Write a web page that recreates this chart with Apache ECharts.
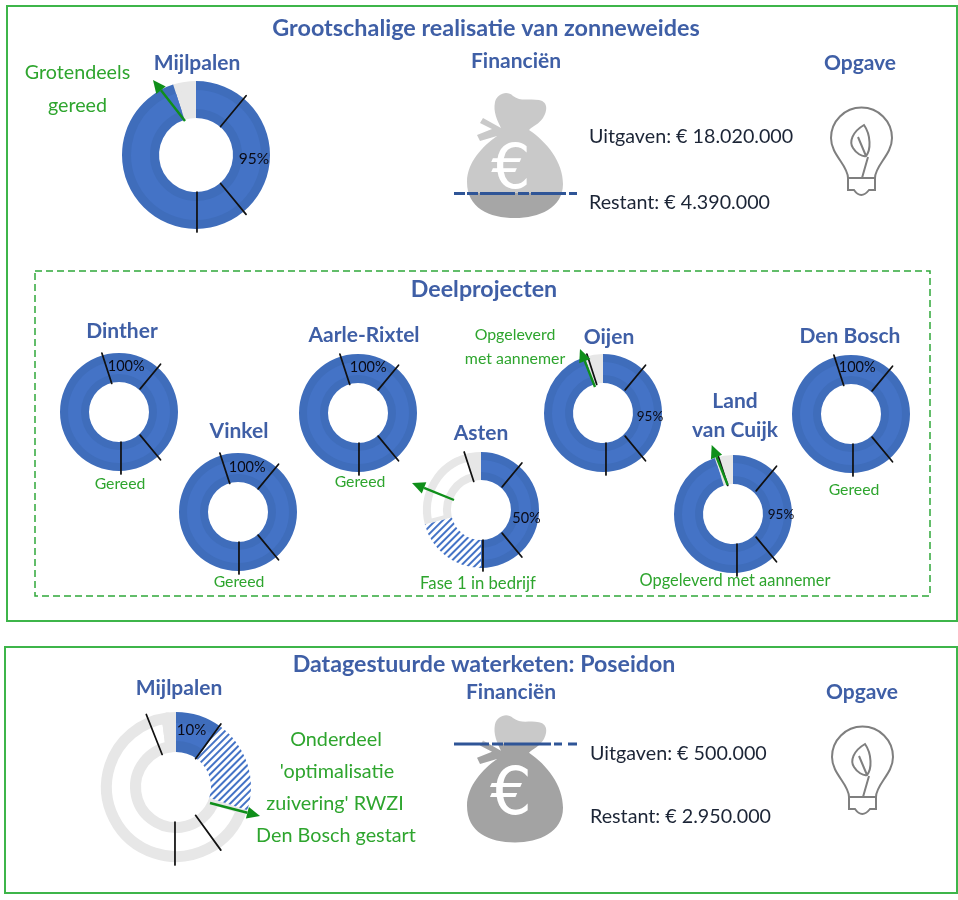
<!DOCTYPE html>
<html><head><meta charset="utf-8">
<style>html,body{margin:0;padding:0;background:#fff}#c{width:958px;height:900px}</style>
<script src="https://cdn.jsdelivr.net/npm/echarts@6/dist/echarts.min.js"></script>
</head><body><div id="c"></div>
<script>
// ---- data ----
const donutNames   = ['Grootschalig','Dinther','Vinkel','Aarle-Rixtel','Asten','Oijen','Land van Cuijk','Den Bosch','Poseidon'];
const doneValues   = [95,100,100,100,50,95,95,100,10];
const hatchValues  = [0,0,0,0,21,0,0,0,20];
const wedgeValues  = [5,0,0,0,3,5,5,0,2];
const milestones   = [[111,139,150],[95,111,139,150],[95,111,139,150],[95,111,139,150],[95,111,139,150],[95,111,139,150],[95,111,139,150],[95,111,139,150],[94,110,140,150]];

// ---- layout of the donuts ----
const labelSector  = [0,0,0,0,1,1,1,0,0];
const labelSizes   = [15.5,14.5,14.5,14.5,14.5,13.5,13.5,14.5,15];
const labelDx      = [-3,-4,-1,0,-5,-5,-5,-5,9];
const labelDy      = [4,2,3,2,8,4,1,1,2];
const centerX      = [196,119,238,358,481,603,733,851,176];
const centerY      = [155,412,512,413,510,413,514,414,787];
const tickDx       = [1,2,1,1,2,3,4,2,-1];
const outerR       = [74,59,59,59,58,59,59,59,75];
const holeR        = [37,30,30,30,30,30,30,30,35];
const bandW        = [9,8,8,8,8,8,8,8,11];

const headTexts = [['Grootschalige realisatie van zonneweides',486,28,23.4],['Deelprojecten',484,290,23.2],['Datagestuurde waterketen: Poseidon',484,665,23.2],
  ['Mijlpalen',197,63,21],['Financiën',516,61,21],['Opgave',860,63,21],['Mijlpalen',179,688,21],['Financiën',511,692,21],['Opgave',862,692,21],
  ['Dinther',122,331,21],['Vinkel',239,431,21],['Aarle-Rixtel',364,335,21],['Asten',481,433,21],['Oijen',609,337,21],['Land',735,401,21],['van Cuijk',735,430,21],['Den Bosch',850,336,21]];
const noteTexts = [['Grotendeels',77.5,73,19.7],['gereed',77.5,106,19.7],['Gereed',120,484,15.8],['Gereed',239,582,15.8],['Gereed',360,482,15.8],['Gereed',854,490,15.8],
  ['Fase 1 in bedrijf',478,584,16.7],['Opgeleverd',515,335,15.9],['met aannemer',515,359,15.9],['Opgeleverd met aannemer',735,581,16.4],
  ['Onderdeel',336,740,19.8],["'optimalisatie",337,772,19.8],["zuivering' RWZI",335,804,19.8],['Den Bosch gestart',336,836,19.8]];
const moneyTexts = [['Uitgaven: € 18.020.000',589,137],['Restant: € 4.390.000',589,203],['Uitgaven: € 500.000',590,754],['Restant: € 2.950.000',590,817]];
const arrows = [[185,121,153,80],[595,387,580,349],[454,500,412,483],[727.7,485,711.7,445],[210,803,260,816]];

// ---- style ----
const FONT='Lato';
const BLUE_EDGE='#3F6DBB', BLUE_MID='#4473C6', GREY='#E7E7E7', TITLE='#3F5FA6', GREEN='#2EA52E', ARROW='#0F8F1A';
const NONE={color:'transparent',borderWidth:0};

const series=[];
const pie=(name,c,radius,startAngle,data,extra)=>series.push(Object.assign({type:'pie',name,center:c,radius,startAngle,silent:true,animation:false,
  label:{show:false},labelLine:{show:false},data},extra||{}));

donutNames.forEach((name,i)=>{
  const c=[centerX[i],centerY[i]], b=bandW[i], R=outerR[i], h=holeR[i];
  const done=doneValues[i], hatch=hatchValues[i], wedge=wedgeValues[i], rest=100-done-hatch-wedge;
  // grey remainder: a white slice with a thick grey outline, plus a solid wedge at the top
  if(done<100){
    const grey=[{value:done+hatch,itemStyle:NONE}];
    if(rest>0) grey.push({value:rest,itemStyle:{color:'#fff',borderColor:GREY,borderWidth:b}});
    if(wedge>0) grey.push({value:wedge,itemStyle:{color:GREY,borderColor:GREY,borderWidth:b}});
    pie(name+' rest',c,[h+b/2,R-b/2],90,grey);
  }
  if(hatch>0){
    pie(name+' hatch',c,[h,R],90,[{value:done,itemStyle:NONE},
      {value:hatch,itemStyle:{color:'#fff',decal:{symbol:'rect',symbolSize:1,dashArrayX:[1,0],dashArrayY:[2,3],rotation:-Math.PI/4,color:BLUE_MID,backgroundColor:'#fff'}}},
      {value:100-done-hatch,itemStyle:NONE}]);
  }
  const blue=col=>[{value:done,itemStyle:{color:col}},{value:100-done,itemStyle:NONE}];
  pie(name,c,[h,R],90,blue(BLUE_EDGE));
  pie(name+' band',c,[h+b,R-b],90,blue(BLUE_MID));

  const ms=milestones[i], tickData=[];
  ms.forEach((m,k)=>{
    const next=k<ms.length-1?ms[k+1]:ms[0]+100;
    tickData.push({value:0.01,itemStyle:{color:'#111',borderColor:'#111',borderWidth:1.7}});
    tickData.push({value:next-m-0.01,itemStyle:NONE,
      label:{show:k===labelSector[i],position:'inside',formatter:done+'%',color:'#0a0a14',fontFamily:FONT,fontSize:labelSizes[i]}});
  });
  pie(name+' mijlpalen',[c[0]+tickDx[i],c[1]],[h,R+3],(90-(ms[0]%100)*3.6+720)%360,tickData,{z:5,labelLayout:{dx:labelDx[i],dy:labelDy[i]}});
});

// ---- decoration ----
const g=[];
const rect=(x,y,w,h,col,lw,dash)=>g.push({type:'rect',shape:{x,y,width:w,height:h},z:1,silent:true,
  style:{fill:'none',stroke:col,lineWidth:lw,lineDash:dash||null}});
rect(7,6,950,615,'#3DB54A',2);
rect(5,647,952,246,'#3DB54A',2);
rect(35,271,895,325,'#2FA83A',1.5,[7,4]);

const txt=(t,x,y,size,col,weight,align)=>g.push({type:'text',x,y,z:30,silent:true,
  style:{text:t,fill:col,font:(weight||'normal')+' '+size+'px '+FONT,textAlign:align||'center',textVerticalAlign:'middle'}});
headTexts.forEach(a=>txt(a[0],a[1],a[2],a[3],TITLE,'bold'));
noteTexts.forEach(a=>txt(a[0],a[1],a[2],a[3],GREEN));
moneyTexts.forEach(a=>txt(a[0],a[1],a[2],19.7,'#1c2536','normal','left'));

arrows.forEach(a=>{
  const [x1,y1,x2,y2]=a, ang=Math.atan2(y2-y1,x2-x1), L=13, W=6;
  const bx=x2-L*Math.cos(ang), by=y2-L*Math.sin(ang), nx=-Math.sin(ang), ny=Math.cos(ang);
  g.push({type:'line',z:20,silent:true,shape:{x1,y1,x2:bx,y2:by},style:{stroke:ARROW,lineWidth:2.4}});
  g.push({type:'polygon',z:20,silent:true,shape:{points:[[x2,y2],[bx+nx*W,by+ny*W],[bx-nx*W,by-ny*W]]},style:{fill:ARROW}});
});

// money bag and bulb icons, drawn as paths by a custom series
const BAG='M35 38C30 28 26 20 28 10C30 2 40 -2 46 4C54 10 62 6 72 8C82 10 80 20 76 26C72 32 66 34 62 38C80 50 96 70 96 92C96 116 72 126 48 126C22 126 0 116 0 90C0 70 16 54 30 44L13 49L10 43L25 37L13 31L16 26L34 36Z';
const BULB='M848 178C848 165 831 155 831 138A30.5 30.5 0 1 1 892 138C892 155 875 165 875 178ZM848 178L848 190L854 190Q861 200 869 190L875 190L875 178M864 125C852 132 849 142 853 148C856 153 862 157 866 156C871 150 871 135 864 125ZM858 137L866 156M868 157L862 178';
const bagFill=(split,top,bot)=>({type:'linear',x:0,y:0,x2:0,y2:1,colorStops:[{offset:0,color:top},{offset:split,color:top},{offset:split,color:bot},{offset:1,color:bot}]});
series.push({type:'custom',coordinateSystem:'none',silent:true,animation:false,z:1,data:[[0]],
  renderItem:()=>({type:'group',children:[
    {type:'path',x:467,y:92,shape:{pathData:BAG},style:{fill:bagFill(0.8,'#C9C9C9','#A6A6A6')}},
    {type:'path',x:467,y:714,scaleY:1.02,shape:{pathData:BAG},style:{fill:bagFill(0.23,'#C9C9C9','#A3A3A3')}},
    {type:'path',x:0,y:0,shape:{pathData:BULB},style:{fill:'none',stroke:'#7F7F7F',lineWidth:2}},
    {type:'path',x:1,y:619,shape:{pathData:BULB},style:{fill:'none',stroke:'#7F7F7F',lineWidth:2}}
  ]})});
const euro=(y,size)=>g.push({type:'text',x:511,y,z:4,silent:true,style:{text:'€',fill:'#fff',font:'normal '+size+'px "DejaVu Sans"',textAlign:'center',textVerticalAlign:'middle'}});
euro(172,62); euro(797,66);
g.push({type:'line',z:6,silent:true,shape:{x1:454,y1:193.5,x2:577,y2:193.5},style:{stroke:'#2F5597',lineWidth:3,lineDash:[11,2,11,2,35,3,11,2,35,3,11]}});
g.push({type:'line',z:6,silent:true,shape:{x1:454,y1:744,x2:578,y2:744},style:{stroke:'#2F5597',lineWidth:3,lineDash:[35,3,11,1,47,3,8,6,9]}});

const chart=echarts.init(document.getElementById('c'),null,{renderer:'canvas'});
chart.setOption({animation:false,backgroundColor:'#fff',series:series,graphic:{elements:g}});
</script></body></html>
